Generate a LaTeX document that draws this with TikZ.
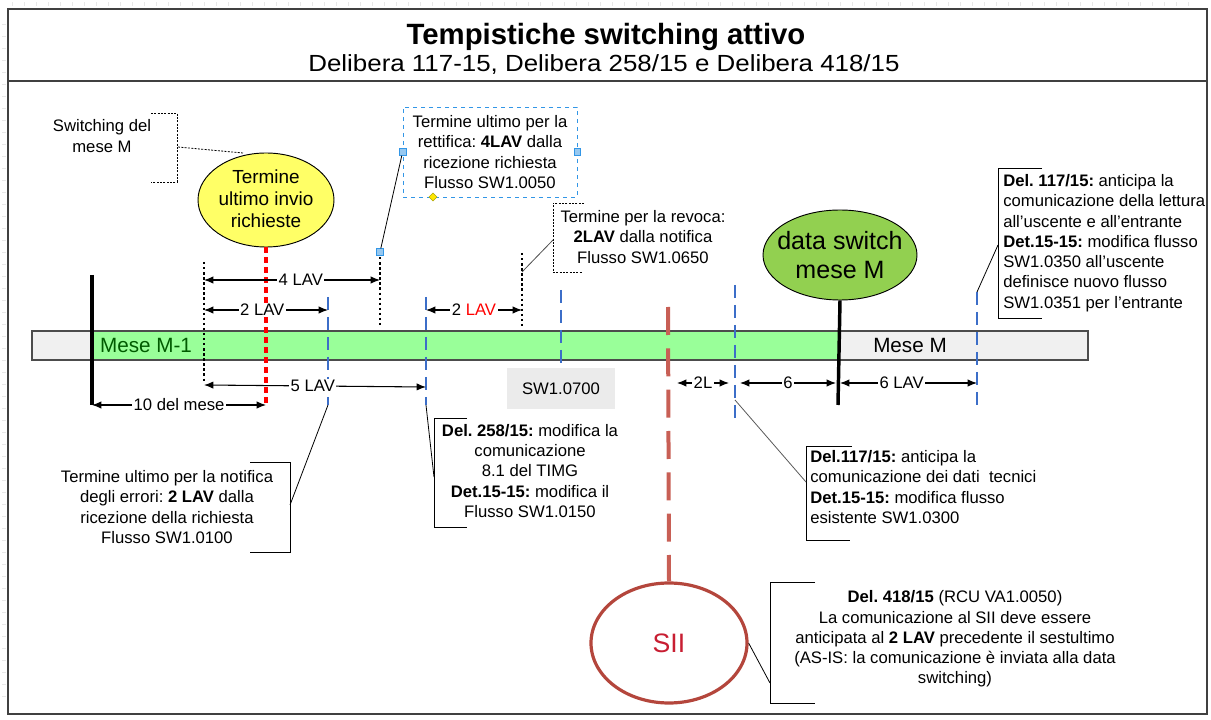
\documentclass[tikz,border=0pt]{standalone}
\usepackage{fontspec}
\setmainfont{Liberation Sans}
\newfontfamily\subfont[FakeStretch=1.11]{Liberation Sans}
\usetikzlibrary{arrows.meta,shapes.geometric}
\definecolor{barGreen}{RGB}{153,255,153}
\definecolor{barGray}{RGB}{240,240,240}
\definecolor{ellYellow}{RGB}{255,255,102}
\definecolor{ellGreen}{RGB}{146,208,80}
\definecolor{siiLine}{RGB}{200,95,85}
\definecolor{siiEdge}{RGB}{180,70,60}
\definecolor{siiText}{RGB}{200,30,50}
\definecolor{dashBlue}{RGB}{60,110,200}
\definecolor{monthGreen}{RGB}{0,90,0}
\definecolor{boxBlue}{RGB}{50,150,230}
\definecolor{handleBlue}{RGB}{150,200,240}
\frenchspacing
\tikzset{
  note/.style={font=\fontsize{12.5}{15.2}\selectfont, align=center, inner sep=0pt},
  notel/.style={font=\fontsize{12.5}{15.2}\selectfont, align=left, inner sep=0pt},
  dimline/.style={{Latex[length=7pt,width=5.5pt]}-{Latex[length=7pt,width=5.5pt]}, line width=0.8pt},
  dimlabel/.style={font=\fontsize{12.5}{15}\selectfont, fill=white, inner sep=1.2pt},
  blackdot/.style={line width=1.5pt, dash pattern=on 1.8pt off 2pt},
  bluedash/.style={dashBlue, line width=1.5pt, dash pattern=on 10pt off 5pt},
  bracketline/.style={line width=0.7pt},
  leader/.style={line width=0.6pt},
  handle/.style={draw=boxBlue, fill=handleBlue, minimum size=5pt, inner sep=0pt, line width=0.5pt},
}
\begin{document}
\begin{tikzpicture}[x=0.75pt,y=-0.75pt]
\useasboundingbox (0,0) rectangle (1211,720);
% faint ruler ticks
\foreach \i in {1,...,99} {\draw[gray!18, line width=0.5pt] (\i*12,2) -- (\i*12,6);}
\foreach \i in {2,...,58} {\draw[gray!18, line width=0.5pt] (2,\i*12) -- (6,\i*12);}
% frame
\draw[line width=1.2pt, black!75] (8,9) rectangle (1207,714);
\draw[line width=1.2pt, black!75] (8,81) -- (1207,81);
\node[font=\bfseries\fontsize{22}{26}\selectfont] (title) at (606,37) {Tempistiche switching attivo};
\node[font=\subfont\fontsize{17.5}{21}\selectfont] (subtitle) at (604,65) {Delibera 117-15, Delibera 258/15 e Delibera 418/15};

% timeline bar
\fill[barGray] (32,331) rectangle (1088,360);
\fill[barGreen] (92,331) rectangle (838,360);
\draw[line width=0.9pt, black!70] (32,331) rectangle (1088,360);
\node[font=\fontsize{15.5}{18}\selectfont, text=monthGreen] (m1) at (146,345) {Mese M-1};
\node[font=\fontsize{15.5}{18}\selectfont] (m0) at (910,345) {Mese M};

% ellipses
\node[ellipse, draw, line width=0.7pt, fill=ellYellow, minimum width=102pt, minimum height=70.5pt, inner sep=0pt] (yel) at (266,200) {};
\node[align=center, font=\fontsize{14.2}{16.6}\selectfont] (yeltxt) at (266,199) {Termine\\ultimo invio\\richieste};
\node[ellipse, draw, line width=0.7pt, fill=ellGreen, minimum width=115.5pt, minimum height=67.5pt, inner sep=0pt] (grn) at (840,255) {};
\node[align=center, font=\fontsize{18.8}{21.8}\selectfont] (grntxt) at (840,255) {data switch\\mese M};
\node[ellipse, draw=siiEdge, line width=2.4pt, fill=white, minimum width=117pt, minimum height=90pt, inner sep=0pt] (sii) at (669,643) {};
\node[font=\fontsize{20}{24}\selectfont, text=siiText] (siitxt) at (669,643) {SII};

% coordinates of the vertical marks
\coordinate (k1t) at (92,275);  \coordinate (k1b) at (92,405);
\coordinate (rdb) at (266,405);
\coordinate (daT) at (204,262); \coordinate (daB) at (204,382);
\coordinate (dbT) at (380,252); \coordinate (dbB) at (380,327);
\coordinate (b1T) at (328,297); \coordinate (b1B) at (328,405);
\coordinate (b2T) at (426,297); \coordinate (b2B) at (426,405);
\coordinate (dcT) at (522,253); \coordinate (dcB) at (522,327);
\coordinate (b3T) at (561,290); \coordinate (b3B) at (561,368);
\coordinate (sT) at (668,307);
\coordinate (b4T) at (735,285); \coordinate (b4B) at (735,418);
\coordinate (k2b) at (838,405);
\coordinate (b5T) at (977,292); \coordinate (b5B) at (977,405);

\draw[line width=2.6pt] (k1t) -- (k1b);
\draw[red, line width=3pt, dash pattern=on 4.5pt off 3pt] (yel.south) -- (rdb);
\draw[blackdot] (daT) -- (daB);
\draw[blackdot] (dbT) -- (dbB);
\draw[blackdot] (dcT) -- (dcB);
\draw[bluedash] (b1T) -- (b1B);
\draw[bluedash] (b2T) -- (b2B);
\draw[bluedash] (b3T) -- (b3B);
\draw[bluedash] (b4T) -- (b4B);
\draw[bluedash] (b5T) -- (b5B);
\draw[siiLine, line width=3pt, dash pattern=on 21pt off 10pt] (sT) -- (sii.north);
\draw[line width=2.6pt] (grn.south) -- (k2b);

% dimension arrows
\coordinate (a4l) at (204,280); \coordinate (a4r) at (380,280);
\draw[dimline] (a4l) -- node[dimlabel, pos=0.55] (l4) {4 LAV} (a4r);
\coordinate (a2l) at (204,310); \coordinate (a2r) at (328,310);
\draw[dimline] (a2l) -- node[dimlabel, pos=0.47] (l2) {2 LAV} (a2r);
\coordinate (a2bl) at (426,310); \coordinate (a2br) at (522,310);
\draw[dimline] (a2bl) -- node[dimlabel] (l2b) {2 \textcolor{red}{LAV}} (a2br);
\coordinate (a5l) at (204,385); \coordinate (a5r) at (426,387);
\draw[dimline] (a5l) -- node[dimlabel, pos=0.49] (l5) {5 LAV} (a5r);
\coordinate (a10l) at (92,405); \coordinate (a10r) at (266,405);
\draw[dimline] (a10l) -- node[dimlabel] (l10) {10 del mese} (a10r);
\coordinate (a2Ll) at (677,383); \coordinate (a2Lr) at (729,383);
\draw[dimline] (a2Ll) -- node[dimlabel] (l2L) {2L} (a2Lr);
\coordinate (a6l) at (740,383); \coordinate (a6r) at (836,383);
\draw[dimline] (a6l) -- node[dimlabel] (l6) {6} (a6r);
\coordinate (a6Ll) at (840,383); \coordinate (a6Lr) at (977,383);
\draw[dimline] (a6Ll) -- node[dimlabel, pos=0.45] (l6L) {6 LAV} (a6Lr);

% SW1.0700 box
\node[fill=black!8, minimum width=81pt, minimum height=30.75pt, font=\fontsize{12.5}{15}\selectfont] (sw700) at (561,389) {SW1.0700};

% Switching del mese M
\node[note] (swm) at (102,136) {Switching del\\mese M};
\draw[bracketline, dash pattern=on 1.5pt off 1pt] (151,113) -- (177,113) -- (177,182) -- (151,182);
\coordinate (swmC) at (178,147);
\draw[leader, dash pattern=on 1.5pt off 1pt] (swmC) -- (243,153);

% rettifica box
\node[note, draw=boxBlue, dashed, line width=0.6pt, minimum width=130.5pt, minimum height=67.5pt] (rett) at (490,152) {Termine ultimo per la\\rettifica: \textbf{4LAV} dalla\\ricezione richiesta\\Flusso SW1.0050};
\node[handle] (hL) at (rett.west) {};
\node[handle] (hR) at (rett.east) {};
\node[handle] (hB) at (dbT) {};
\node[diamond, draw=olive!70!yellow, fill=yellow!90!orange, minimum size=6pt, inner sep=0pt] (hD) at (433,197) {};
\draw[leader] (hL) -- (hB);

% revoca
\node[note] (rev) at (643,237) {Termine per la revoca:\\\textbf{2LAV} dalla notifica\\Flusso SW1.0650};
\draw[bracketline, dash pattern=on 1.5pt off 1pt] (584,203) -- (553,203) -- (553,272) -- (582,272);
\coordinate (revC) at (553,240);
\coordinate (revE) at (522,272);
\draw[leader, black!70] (revC) -- (revE);

% notifica errori
\node[note] (notif) at (167,507) {Termine ultimo per la notifica\\degli errori: \textbf{2 LAV} dalla\\ricezione della richiesta\\Flusso SW1.0100};
\draw[bracketline] (250,462) -- (290,462) -- (290,552) -- (250,552);
\coordinate (notC) at (290,505);
\draw[leader] (notC) -- (b1B);

% Del 258/15
\node[note] (d258) at (530,471) {\textbf{Del. 258/15:} modifica la\\comunicazione\\8.1 del TIMG\\\textbf{Det.15-15:} modifica il\\Flusso SW1.0150};
\draw[bracketline] (467,418) -- (434,418) -- (434,527) -- (467,527);
\coordinate (d258C) at (434,477);
\draw[leader] (d258C) -- (b2B);

% Del 117/15 dati tecnici
\node[notel, anchor=west] (d117t) at (810,487) {\textbf{Del.117/15:} anticipa la\\comunicazione dei dati\ \ tecnici\\\textbf{Det.15-15:} modifica flusso\\esistente SW1.0300};
\draw[bracketline] (852,446) -- (806,446) -- (806,540) -- (850,540);
\coordinate (d117tC) at (806,482);
\coordinate (b4L) at (735,400);
\draw[leader, black!65] (b4L) -- (d117tC);

% Del 117/15 lettura
\node[notel, anchor=west] (d117r) at (1003,243) {\textbf{Del. 117/15:} anticipa la\\comunicazione della lettura\\all'uscente e all'entrante\\\textbf{Det.15-15:} modifica flusso\\SW1.0350 all'uscente\\definisce nuovo flusso\\SW1.0351 per l'entrante};
\draw[bracketline] (1042,168) -- (998,168) -- (998,318) -- (1042,318);
\coordinate (d117rC) at (998,245);
\draw[leader] (d117rC) -- (b5T);

% SII note
\node[note] (siinote) at (955,639) {\textbf{Del. 418/15} (RCU VA1.0050)\\La comunicazione al SII deve essere\\anticipata al \textbf{2 LAV} precedente il sestultimo\\(AS-IS: la comunicazione è inviata alla data\\switching)};
\draw[bracketline] (815,582) -- (770,582) -- (770,703) -- (815,703);
\coordinate (siiC) at (770,683);
\draw[leader] (sii.east) -- (siiC);
\end{tikzpicture}
\end{document}
